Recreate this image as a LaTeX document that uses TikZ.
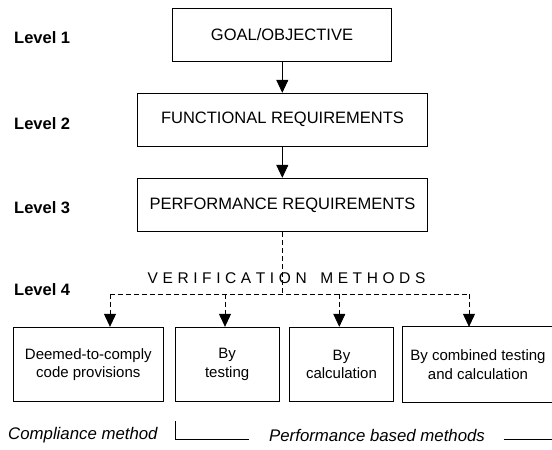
\documentclass[tikz,border=0pt]{standalone}
\usepackage{fontspec}
\setmainfont{Liberation Sans}
\usetikzlibrary{arrows.meta}
\newcommand{\lsp}{\kern4.6pt}
\begin{document}
\begin{tikzpicture}[x=1pt,y=-1pt,
  box/.style={draw, line width=0.9pt, inner sep=0pt, font=\fontsize{16.5}{18}\selectfont, align=center},
  lowbox/.style={draw, line width=0.9pt, inner sep=0pt, minimum height=74.4pt, font=\fontsize{15}{18.5}\selectfont, align=center},
  lvl/.style={anchor=west, inner sep=0pt, font=\fontsize{16.5}{18}\selectfont\bfseries},
  arr/.style={line width=0.9pt, -{Triangle[length=13pt,width=12pt]}},
  darr/.style={line width=0.9pt, dash pattern=on 5pt off 3pt, -{Triangle[length=13pt,width=12pt]}},
  dline/.style={line width=0.9pt, dash pattern=on 5pt off 3pt},
  note/.style={inner sep=0pt, font=\fontsize{16.8}{18}\selectfont\itshape},
  sline/.style={line width=0.9pt}]
\useasboundingbox (0,0) rectangle (552,450);

\node[lvl] (l1) at (14,37.3) {Level 1};
\node[lvl] (l2) at (14,123.3) {Level 2};
\node[lvl] (l3) at (14,207.7) {Level 3};
\node[lvl] (l4) at (14,290) {Level 4};

\node[box, minimum width=219.6pt, minimum height=53.3pt] (goal) at (282,34.65) {GOAL/OBJECTIVE};
\node[box, minimum width=290.5pt, minimum height=52.7pt] (func) at (282.5,119.65) {FUNCTIONAL REQUIREMENTS};
\node[box, minimum width=290.5pt, minimum height=53.4pt] (perf) at (282.5,205) {PERFORMANCE REQUIREMENTS};

\coordinate (ax) at (282.3,0);
\draw[arr] (ax |- goal.south) -- (ax |- func.north);
\draw[arr] (ax |- func.south) -- (ax |- perf.north);

\node[inner sep=0pt, font=\fontsize{15.5}{18}\selectfont] (vm) at (286.5,278.3) {V\lsp E\lsp R\lsp I\lsp F\lsp I\lsp C\lsp A\lsp T\lsp I\lsp O\lsp N\lsp\ \lsp M\lsp E\lsp T\lsp H\lsp O\lsp D\lsp S};

\node[lowbox, minimum width=150pt] (dtc) at (88.3,364.5) {Deemed-to-comply\\code provisions};
\node[lowbox, minimum width=104.2pt] (test) at (227.1,364.5) {By\\testing};
\node[lowbox, minimum width=104.3pt] (calc) at (341.5,364.5) {By\\calculation};
\node[lowbox, draw=none, minimum width=150.5pt] (comb) at (478,364.5) {By combined testing\\and calculation};
\draw[line width=0.9pt] ([xshift=8pt]comb.north east) -- (comb.north west) -- (comb.south west) -- ([xshift=8pt]comb.south east);

\coordinate (hub) at (282.3,294);
\coordinate (d1) at (110,294);
\coordinate (d2) at (225,294);
\coordinate (d3) at (339.3,294);
\coordinate (d4) at (469,294);
\draw[dline] (ax |- perf.south) -- (hub);
\draw[dline] (d1) -- (d4);
\draw[darr] (d1) -- (d1 |- dtc.north);
\draw[darr] (d2) -- (d2 |- test.north);
\draw[darr] (d3) -- (d3 |- calc.north);
\draw[darr] (d4) -- (d4 |- comb.north);

\node[note, anchor=west] (cm) at (8,435) {Compliance method};
\node[note, anchor=west] (pbm) at (269,435) {Performance based methods};
\coordinate (b1) at (175,421);
\coordinate (b2) at (175,439);
\coordinate (b3) at (248.5,439);
\coordinate (b4) at (503.5,439);
\coordinate (b5) at (552,439);
\draw[sline] (b1) -- (b2) -- (b3);
\draw[sline] (b4) -- (b5);
\end{tikzpicture}
\end{document}
